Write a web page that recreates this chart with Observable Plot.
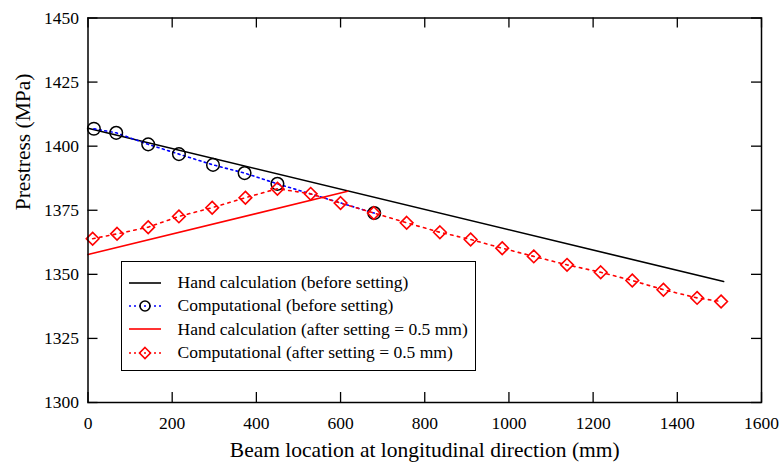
<!DOCTYPE html>
<html><head><meta charset="utf-8">
<script src="https://cdn.jsdelivr.net/npm/d3@7"></script>
<script src="https://cdn.jsdelivr.net/npm/@observablehq/plot@0.6"></script>
<style>
body{margin:0;background:#fff;}
#wrap{position:relative;width:781px;height:469px;font-family:'Liberation Serif','Times New Roman',serif;}
#chart svg, #chart svg text{font-family:'Liberation Serif','Times New Roman',serif !important;}
#legend{position:absolute;left:121px;top:261px;width:355px;height:110px;box-sizing:border-box;border:1.5px solid #000;background:#fff;padding-top:9px;font-family:'Liberation Serif','Times New Roman',serif;}
#legend .row{height:23.3px;display:flex;align-items:center;font-size:17.5px;color:#000;white-space:nowrap;}
#legend svg{margin-left:5.5px;margin-right:16px;flex:none;}
</style>
</head><body>
<div id="wrap"><div id="chart"></div><div id="legend"></div></div>
<script>
const xTicks = [0, 200, 400, 600, 800, 1000, 1200, 1400, 1600];
const yTicks = [1300, 1325, 1350, 1375, 1400, 1425, 1450];

const handBeforeX = [0, 1510];
const handBeforeY = [1407.0, 1347.2];
const compBeforeX = [14, 67, 143, 216, 297, 372, 450, 680];
const compBeforeY = [1406.8, 1405.2, 1400.7, 1396.9, 1392.7, 1389.5, 1385.3, 1373.9];
const handAfterX = [0, 617];
const handAfterY = [1357.7, 1382.4];
const compAfterX = [11, 69, 143, 216, 295, 374, 450, 529, 600, 679, 757, 836, 909, 984, 1059, 1138, 1218, 1293, 1367, 1447, 1504];
const compAfterY = [1363.9, 1365.8, 1368.4, 1372.6, 1376.0, 1379.9, 1383.4, 1381.4, 1377.8, 1373.9, 1370.1, 1366.4, 1363.6, 1360.2, 1357.0, 1353.7, 1350.8, 1347.6, 1344.0, 1340.8, 1339.4];

const legendLabels = [
  "Hand calculation (before setting)",
  "Computational (before setting)",
  "Hand calculation (after setting = 0.5 mm)",
  "Computational (after setting = 0.5 mm)"
];
const xLabel = "Beam location at longitudinal direction (mm)";
const yLabel = "Prestress (MPa)";

const zip = (xs, ys) => xs.map((x, i) => ({x, y: ys[i]}));
const handBefore = zip(handBeforeX, handBeforeY);
const compBefore = zip(compBeforeX, compBeforeY);
const handAfter = zip(handAfterX, handAfterY);
const compAfter = zip(compAfterX, compAfterY);

const W = 781, H = 469, mL = 87.5, mR = 20, mT = 17.5, mB = 67;
const innerW = W - mL - mR, innerH = H - mT - mB, tk = 10;
const font = "'Liberation Serif','Times New Roman',serif";

const chart = Plot.plot({
  width: W, height: H,
  marginLeft: mL, marginRight: mR, marginTop: mT, marginBottom: mB,
  style: {fontFamily: font, background: "#fff", color: "#000"},
  x: {domain: [0, 1600]},
  y: {domain: [1300, 1450]},
  marks: [
    Plot.axisX({ticks: xTicks, tickSize: 0, tickPadding: 14, fontSize: 17.5, label: null, tickFormat: d => String(d)}),
    Plot.axisY({ticks: yTicks, tickSize: 0, tickPadding: 9, fontSize: 17.5, label: null, tickFormat: d => String(d)}),
    Plot.ruleX(xTicks, {x: d => d, insetTop: innerH - tk, stroke: "#000", strokeWidth: 1.3}),
    Plot.ruleX(xTicks, {x: d => d, insetBottom: innerH - tk, stroke: "#000", strokeWidth: 1.3}),
    Plot.ruleY(yTicks, {y: d => d, insetRight: innerW - tk, stroke: "#000", strokeWidth: 1.3}),
    Plot.ruleY(yTicks, {y: d => d, insetLeft: innerW - tk, stroke: "#000", strokeWidth: 1.3}),
    Plot.line(handBefore, {x: "x", y: "y", stroke: "#000", strokeWidth: 1.6}),
    Plot.line(compBefore, {x: "x", y: "y", stroke: "#0000ff", strokeWidth: 1.6, strokeDasharray: "2,3.5"}),
    Plot.dot(compBefore, {x: "x", y: "y", r: 6.3, stroke: "#000", fill: "none", strokeWidth: 1.5}),
    Plot.line(handAfter, {x: "x", y: "y", stroke: "#ff0000", strokeWidth: 1.6}),
    Plot.line(compAfter, {x: "x", y: "y", stroke: "#ff0000", strokeWidth: 1.6, strokeDasharray: "2.5,4.5"}),
    Plot.dot(compAfter, {x: "x", y: "y", r: 5.7, symbol: "diamond2", stroke: "#ff0000", fill: "none", strokeWidth: 1.6}),
    Plot.frame({stroke: "#000", strokeWidth: 1.5}),
    Plot.text([xLabel], {text: d => d, frameAnchor: "bottom", dy: 54, fontSize: 21.5, fill: "#000"}),
    Plot.text([yLabel], {text: d => d, frameAnchor: "left", dx: -65, rotate: -90, fontSize: 21.5, fill: "#000"})
  ]
});
chart.style.fontFamily = font;
document.getElementById("chart").appendChild(chart);

// Legend
const swatches = [
  {stroke: "#000", dash: null, marker: null},
  {stroke: "#0000ff", dash: "2,3", marker: "circle", mstroke: "#000"},
  {stroke: "#ff0000", dash: null, marker: null},
  {stroke: "#ff0000", dash: "2,3", marker: "diamond", mstroke: "#ff0000"}
];
const leg = d3.select("#legend");
legendLabels.forEach((lab, i) => {
  const s = swatches[i];
  const row = leg.append("div").attr("class", "row");
  const svg = row.append("svg").attr("width", 34).attr("height", 22);
  svg.append("line").attr("x1", 1).attr("x2", 33).attr("y1", 11).attr("y2", 11)
    .attr("stroke", s.stroke).attr("stroke-width", 1.6)
    .attr("stroke-dasharray", s.dash);
  if (s.marker === "circle") {
    svg.append("circle").attr("cx", 17).attr("cy", 11).attr("r", 5).attr("fill", "none")
      .attr("stroke", s.mstroke).attr("stroke-width", 1.6);
  } else if (s.marker === "diamond") {
    svg.append("path").attr("d", "M17,5.5L22.5,11L17,16.5L11.5,11Z").attr("fill", "none")
      .attr("stroke", s.mstroke).attr("stroke-width", 1.6);
  }
  row.append("span").text(lab);
});
</script>
</body></html>
